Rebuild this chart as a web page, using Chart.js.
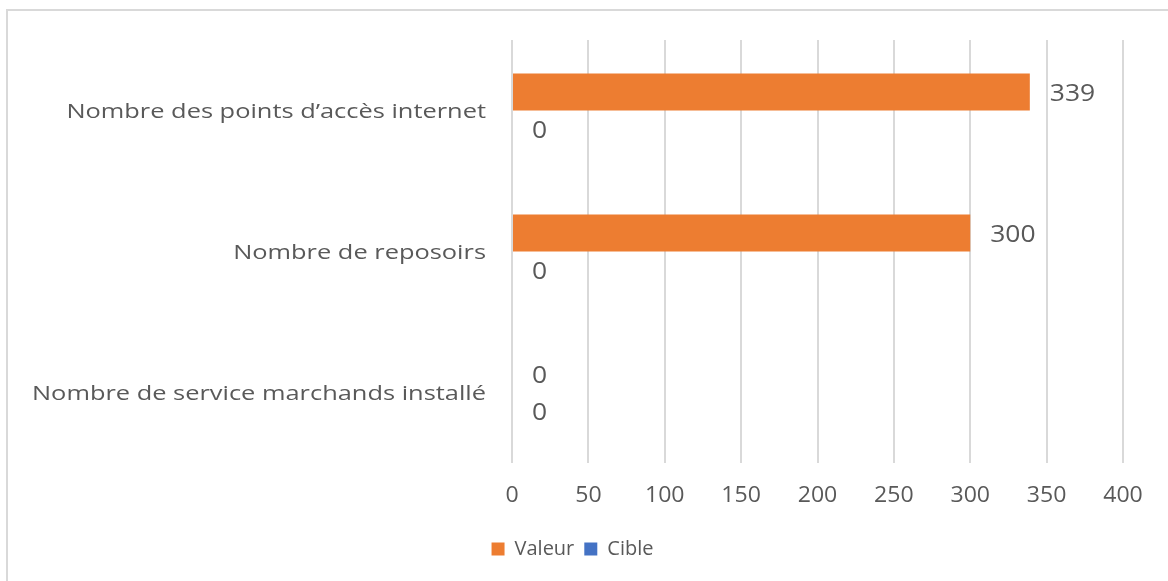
<!DOCTYPE html>
<html>
<head>
<meta charset="utf-8">
<script src="https://cdn.jsdelivr.net/npm/chart.js@4"></script>
<style>
  html, body { margin: 0; padding: 0; background: #ffffff; overflow: hidden; }
  #frame { position: absolute; left: 6px; top: 9px; width: 1200px; height: 600px; border: 2px solid #d9d9d9; }
  #wrap { position: absolute; left: 0; top: 0; width: 1168px; height: 581px; }
</style>
</head>
<body>
<div id="frame"></div>
<div id="wrap"><canvas id="barChart" width="1168" height="581"></canvas></div>
<script>
// Chart data
const categories = ['Nombre des points d\u2019acc\u00e8s internet', 'Nombre de reposoirs', 'Nombre de service marchands install\u00e9'];
const valeur = [339, 300, 0];
const cible = [0, 0, 0];
const xTicks = [0, 50, 100, 150, 200, 250, 300, 350, 400];

const textColor = '#595959';
const fontFamily = 'Open Sans';

// text in the source picture is a bit stretched sideways
function stretchedText(ctx, text, x, y, align, size, sx) {
    ctx.save();
    ctx.translate(x, y);
    ctx.scale(sx, 1);
    ctx.font = size + 'px "' + fontFamily + '"';
    ctx.fillStyle = textColor;
    ctx.textAlign = align;
    ctx.textBaseline = 'middle';
    ctx.fillText(text, 0, 0);
    ctx.restore();
}

// Category names, x tick labels and value labels
const textPlugin = {
    id: 'textPlugin',
    afterDatasetsDraw(chart) {
        const ctx = chart.ctx;
        const yScale = chart.scales.y;
        const xScale = chart.scales.x;
        chart.data.labels.forEach((label, i) => {
            stretchedText(ctx, label, yScale.right - 26, yScale.getPixelForValue(i) + 2, 'right', 20, 1.27);
        });
        xTicks.forEach(v => {
            stretchedText(ctx, String(v), xScale.getPixelForValue(v), xScale.top + 33, 'center', 21, 1.1);
        });
        chart.data.datasets.forEach((ds, i) => {
            chart.getDatasetMeta(i).data.forEach((bar, j) => {
                stretchedText(ctx, String(ds.data[j]), bar.x + 20, bar.y + 2, 'left', 23, 1.15);
            });
        });
    }
};

const ctx = document.getElementById('barChart').getContext('2d');
new Chart(ctx, {
    type: 'bar',
    data: {
        labels: categories,
        datasets: [
            { label: 'Valeur', data: valeur, backgroundColor: '#ED7D31' },
            { label: 'Cible', data: cible, backgroundColor: '#4472C4' }
        ]
    },
    options: {
        indexAxis: 'y',
        responsive: false,
        animation: false,
        layout: { padding: { top: 40, right: 45, bottom: 12, left: 22 } },
        datasets: { bar: { categoryPercentage: 0.526, barPercentage: 1.0 } },
        scales: {
            x: {
                min: 0,
                max: 400,
                afterBuildTicks(scale) { scale.ticks = xTicks.map(v => ({ value: v })); },
                afterFit(scale) { scale.height = 66; },
                grid: { color: '#d9d9d9', lineWidth: 2, drawTicks: false },
                border: { display: false },
                ticks: { display: false }
            },
            y: {
                afterFit(scale) { scale.width = 490; },
                grid: { display: false, drawTicks: false },
                border: { display: false },
                ticks: { display: false }
            }
        },
        plugins: {
            legend: {
                position: 'bottom',
                labels: {
                    color: textColor,
                    boxWidth: 13,
                    boxHeight: 13,
                    padding: 10,
                    font: { family: fontFamily, size: 20 }
                }
            },
            tooltip: { enabled: false }
        }
    },
    plugins: [textPlugin]
});
</script>
</body>
</html>
